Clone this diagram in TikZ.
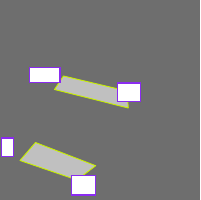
\documentclass[tikz,border=0pt]{standalone}
\usepackage{xcolor}
\definecolor{sceneground}{HTML}{6E6E6E}
\definecolor{slabfill}{HTML}{C0C0C0}
\definecolor{slabedge}{HTML}{C8F000}
\definecolor{tagedge}{HTML}{8A2BF0}

\begin{document}
\begin{tikzpicture}[
  x=1pt,
  y=-1pt,
  tag/.style={draw=tagedge, fill=white, line width=1.4pt, inner sep=0pt, anchor=north west},
  slab/.style={fill=slabfill, draw=slabedge, line width=0.9pt, line join=round}
]
  \fill[sceneground] (0,0) rectangle (200,200);
  \useasboundingbox (0,0) rectangle (200,200);

  \path[slab] (63.5,76) -- (54.5,89.5) -- (128.3,108) -- (127,91) -- cycle;
  \path[slab] (35.5,142.5) -- (20,160.5) -- (77,180) -- (95.7,165.7) -- cycle;

  \node[tag, minimum width=30.6pt, minimum height=15pt] (upperleft) at (28.7,66.7) {};
  \node[tag, minimum width=22.6pt, minimum height=18.6pt] (upperright) at (117,82.4) {};
  \node[tag, minimum width=11.9pt, minimum height=18.6pt] (lowerleft) at (0.7,137.4) {};
  \node[tag, minimum width=24.3pt, minimum height=19.6pt] (lowerright) at (70.7,174.7) {};
\end{tikzpicture}
\end{document}
